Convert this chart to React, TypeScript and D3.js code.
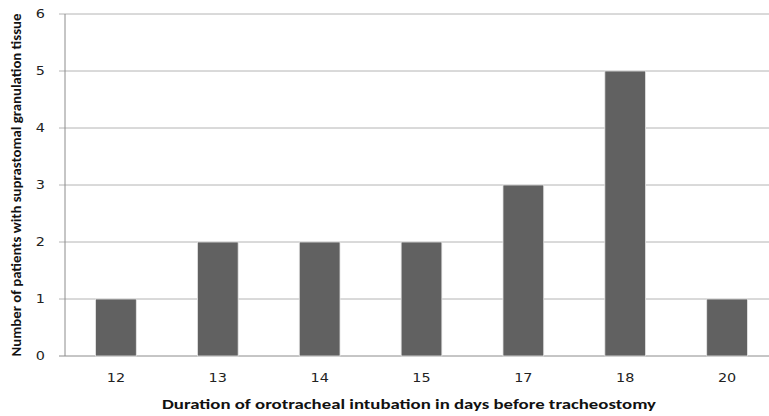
import * as d3 from "d3";
import React from "react";

const width = 769;
const height = 416;
const margin = { top: 14, right: -9, bottom: 60, left: 65 };

// days of intubation before tracheostomy
const days = ["12", "13", "14", "15", "17", "18", "20"];
// patients with suprastomal granulation tissue
const patients = [1, 2, 2, 2, 3, 5, 1];
const yTicks = [0, 1, 2, 3, 4, 5, 6];

const titleFont = "Carlito, 'Open Sans', 'Liberation Sans', sans-serif";
const tickFont = "'DejaVu Sans', Verdana, sans-serif";

const App = () => {
  const xScale = d3
    .scaleBand()
    .domain(days)
    .range([margin.left, width - margin.right])
    .paddingInner(0.6)
    .paddingOuter(0.3);
  const yScale = d3
    .scaleLinear()
    .domain([0, 6])
    .range([height - margin.bottom, margin.top]);

  const y0 = yScale(0);

  return (
    <svg
      width={width}
      height={height}
      style={{ position: "absolute", left: 0, top: 0, background: "#fff" }}
    >
      {/* gridlines + y ticks */}
      {yTicks.map((t) => (
        <g key={t}>
          <line
            x1={margin.left - 6}
            x2={width}
            y1={yScale(t)}
            y2={yScale(t)}
            stroke={t === 0 ? "#8c8c8c" : "#b4b4b4"}
            strokeWidth={1}
          />
          <text
            transform={`translate(45, ${yScale(t)}) scale(1.2, 1)`}
            dy="0.36em"
            textAnchor="end"
            fontFamily={tickFont}
            fontSize={12}
            fill="#222"
          >
            {t}
          </text>
        </g>
      ))}
      {/* bars */}
      {days.map((d, i) => (
        <rect
          key={d}
          x={xScale(d)}
          y={yScale(patients[i])}
          width={xScale.bandwidth()}
          height={y0 - yScale(patients[i])}
          fill="#616161"
          stroke="#e6e6e6"
          strokeWidth={0.8}
        />
      ))}
      {/* y axis line */}
      <line
        x1={margin.left}
        x2={margin.left}
        y1={margin.top}
        y2={y0}
        stroke="#8c8c8c"
      />
      {/* x tick labels */}
      {days.map((d) => (
        <text
          key={d}
          transform={`translate(${(xScale(d) ?? 0) + xScale.bandwidth() / 2}, 382) scale(1.2, 1)`}
          textAnchor="middle"
          fontFamily={tickFont}
          fontSize={12}
          fill="#222"
        >
          {d}
        </text>
      ))}
      {/* axis titles */}
      <text
        x={409}
        y={409}
        textAnchor="middle"
        fontFamily={titleFont}
        fontSize={14}
        fontWeight="bold"
        textLength={494}
        lengthAdjust="spacingAndGlyphs"
        fill="#111"
      >
        Duration of orotracheal intubation in days before tracheostomy
      </text>
      <text
        transform={`translate(21, ${185}) rotate(-90)`}
        textAnchor="middle"
        fontFamily={titleFont}
        fontSize={14}
        fontWeight="bold"
        textLength={343}
        lengthAdjust="spacingAndGlyphs"
        fill="#111"
      >
        Number of patients with suprastomal granulation tissue
      </text>
    </svg>
  );
};

export default App;
